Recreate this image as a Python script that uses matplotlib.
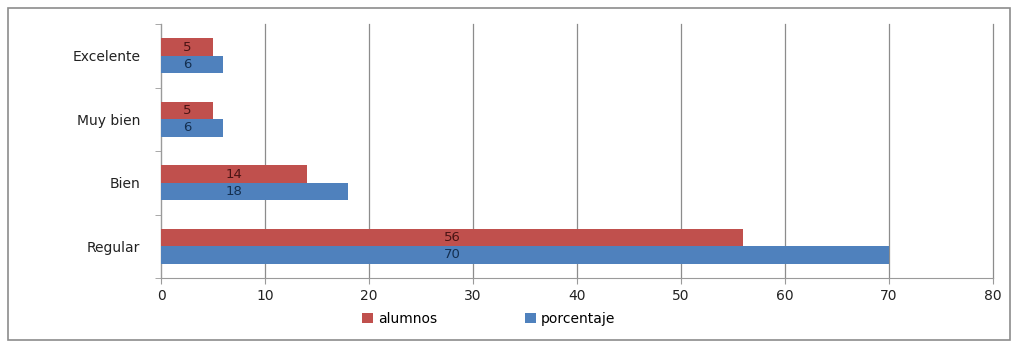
import matplotlib
matplotlib.use("Agg")
import matplotlib.pyplot as plt
from matplotlib.patches import Rectangle
import numpy as np

categories = ["Excelente", "Muy bien", "Bien", "Regular"]
alumnos = [5, 5, 14, 56]
porcentaje = [6, 6, 18, 70]
xticks = [0, 10, 20, 30, 40, 50, 60, 70, 80]

plt.rcParams['font.family'] = ['DejaVu Sans']

W, H = 1013, 344
fig = plt.figure(figsize=(W / 100, H / 100), dpi=100)
fig.patch.set_facecolor("white")
fig.patches.append(Rectangle((8 / W, 4 / H), 1002 / W, 332 / H, transform=fig.transFigure,
                             fill=False, edgecolor="#8c8c8c", linewidth=1.2))

ax = fig.add_axes([161 / W, 1 - 278 / H, (993 - 161) / W, (278 - 24) / H])
red = "#C0504D"
blue = "#4F81BD"
n = len(categories)
ypos = np.arange(n)[::-1].astype(float)
bh = 0.275
rb = ax.barh(ypos + bh / 2, alumnos, height=bh, color=red, label="alumnos", zorder=3)
bb = ax.barh(ypos - bh / 2, porcentaje, height=bh, color=blue, label="porcentaje", zorder=3)
for y, a, p in zip(ypos, alumnos, porcentaje):
    xc = a / 2.0
    ax.text(xc, y + bh / 2, str(a), ha="center", va="center", color="#4a1414",
            fontsize=9.5, zorder=4)
    ax.text(xc, y - bh / 2, str(p), ha="center", va="center", color="#142f50",
            fontsize=9.5, zorder=4)

ax.set_xlim(0, 80)
ax.set_ylim(-0.5, n - 0.5)
ax.set_xticks(xticks)
ax.set_xticklabels([str(t) for t in xticks], fontsize=10, color="#222222")
ax.set_yticks(ypos)
ax.set_yticklabels(categories, fontsize=10, color="#222222")
ax.tick_params(axis="y", length=0, pad=15)
ax.tick_params(axis="x", length=4, color="#9a9a9a", pad=4)
ax.set_yticks(np.arange(-0.5, n, 1.0), minor=True)
ax.tick_params(axis="y", which="minor", length=4, color="#9a9a9a")
ax.grid(axis="x", color="#8c8c8c", linewidth=0.9, zorder=0)
for gl in ax.get_xgridlines():
    gl.set_clip_on(False)
for s in ["top", "right"]:
    ax.spines[s].set_visible(False)
ax.spines["left"].set_color("#9a9a9a")
ax.spines["bottom"].set_color("#9a9a9a")

fig.legend(handles=[rb, bb], labels=["alumnos", "porcentaje"], loc="center left",
           bbox_to_anchor=(362 / W, 1 - 319 / H), ncol=2, frameon=False, fontsize=10,
           handlelength=0.8, handleheight=0.7, columnspacing=6.3, handletextpad=0.35,
           borderpad=0.0, borderaxespad=0.0)

fig.savefig("out.png", dpi=100, facecolor="white")
